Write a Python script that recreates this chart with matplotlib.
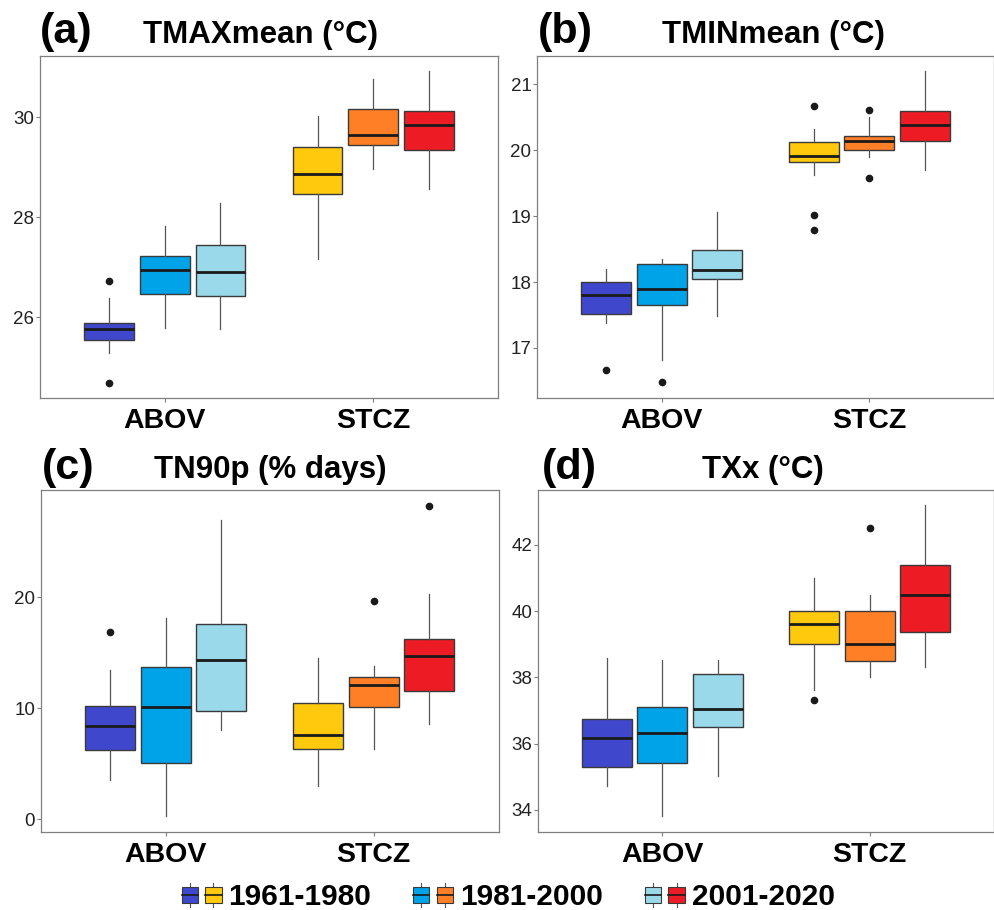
import matplotlib
matplotlib.use('Agg')
import matplotlib.pyplot as plt
from matplotlib.patches import Rectangle
from matplotlib.lines import Line2D
from matplotlib.legend_handler import HandlerBase

plt.rcParams['font.family'] = ['Liberation Sans', 'DejaVu Sans']

regions = ['ABOV', 'STCZ']
periods = ['1961-1980', '1981-2000', '2001-2020']
# boxes in order: ABOV 3 periods, then STCZ 3 periods
colors = ['#3F48CC', '#00A2E8', '#99D9EA', '#FFC90E', '#FF7F27', '#ED1C24']

# (a) TMAXmean
a_lo  = [25.29, 25.79, 25.77, 27.17, 28.97, 28.56]
a_q1  = [25.54, 26.47, 26.43, 28.47, 29.45, 29.35]
a_med = [25.77, 26.95, 26.90, 28.87, 29.64, 29.84]
a_q3  = [25.89, 27.23, 27.45, 29.40, 30.16, 30.13]
a_hi  = [26.39, 27.82, 28.29, 30.03, 30.77, 30.92]
a_out = [[26.72, 24.69], [], [], [], [], []]

# (b) TMINmean
b_lo  = [17.38, 16.81, 17.48, 19.63, 19.90, 19.70]
b_q1  = [17.52, 17.65, 18.04, 19.82, 20.01, 20.14]
b_med = [17.80, 17.89, 18.18, 19.91, 20.14, 20.38]
b_q3  = [18.00, 18.28, 18.48, 20.12, 20.22, 20.60]
b_hi  = [18.20, 18.35, 19.07, 20.32, 20.50, 21.20]
b_out = [[16.66], [16.48], [], [20.67, 19.02, 18.79], [20.61, 19.58], []]

# (c) TN90p
c_lo  = [3.48, 0.30, 7.99, 2.94, 6.31, 8.56]
c_q1  = [6.19, 5.05, 9.73, 6.28, 10.09, 11.53]
c_med = [8.38, 10.06, 14.32, 7.57, 12.10, 14.74]
c_q3  = [10.15, 13.72, 17.63, 10.45, 12.85, 16.22]
c_hi  = [13.45, 18.11, 26.97, 14.50, 13.78, 20.33]
c_out = [[16.91], [], [], [], [19.64], [28.26]]

# (d) TXx
d_lo  = [34.71, 33.82, 35.01, 37.63, 38.00, 38.30]
d_q1  = [35.29, 35.41, 36.51, 39.00, 38.50, 39.38]
d_med = [36.16, 36.32, 37.06, 39.62, 39.02, 40.50]
d_q3  = [36.75, 37.10, 38.11, 40.00, 40.00, 41.41]
d_hi  = [38.60, 38.52, 38.52, 41.01, 40.50, 43.20]
d_out = [[], [], [], [37.31], [42.50], []]

panels = [
    ('(a)', 'TMAXmean (°C)', (a_lo, a_q1, a_med, a_q3, a_hi, a_out), [26, 28, 30], (24.38, 31.22)),
    ('(b)', 'TMINmean (°C)', (b_lo, b_q1, b_med, b_q3, b_hi, b_out), [17, 18, 19, 20, 21], (16.24, 21.43)),
    ('(c)', 'TN90p (% days)', (c_lo, c_q1, c_med, c_q3, c_hi, c_out), [0, 10, 20], (-1.17, 29.67)),
    ('(d)', 'TXx (°C)', (d_lo, d_q1, d_med, d_q3, d_hi, d_out), [34, 36, 38, 40, 42], (33.33, 43.66)),
]

axes_rects = [
    [0.0402, 0.5626, 0.4603, 0.3758],
    [0.5397, 0.5626, 0.4593, 0.3758],
    [0.0409, 0.0857, 0.4603, 0.3758],
    [0.5407, 0.0857, 0.4583, 0.3758],
]
label_xy = [(0.040, 0.965), (0.541, 0.965), (0.042, 0.486), (0.545, 0.486)]
title_xy = [(0.262, 0.961), (0.777, 0.961), (0.272, 0.484), (0.767, 0.484)]

offsets = [-0.267, 0.0, 0.267]
positions = [g + o for g in [1, 2] for o in offsets]

fig = plt.figure(figsize=(9.95, 9.1), dpi=100)

for i, (lab, title, vals, yticks, ylim) in enumerate(panels):
    ax = fig.add_axes(axes_rects[i])
    lo, q1, med, q3, hi, out = vals
    stats = []
    for k in range(6):
        stats.append(dict(whislo=lo[k], q1=q1[k], med=med[k], q3=q3[k],
                          whishi=hi[k], fliers=out[k]))
    bp = ax.bxp(stats, positions=positions, widths=0.24, patch_artist=True,
                showcaps=False,
                boxprops=dict(edgecolor='#3a3a3a', linewidth=1.0),
                medianprops=dict(color='#1a1a1a', linewidth=2.0),
                whiskerprops=dict(color='#555555', linewidth=0.9),
                flierprops=dict(marker='o', markerfacecolor='#1a1a1a',
                                markeredgecolor='#1a1a1a', markersize=4.5))
    for patch, c in zip(bp['boxes'], colors):
        patch.set_facecolor(c)
    ax.set_xlim(0.4, 2.6)
    ax.set_ylim(*ylim)
    ax.set_xticks([1, 2])
    ax.set_xticklabels(regions, fontsize=20.5, fontweight='bold')
    ax.set_yticks(yticks)
    ax.tick_params(axis='y', labelsize=13.5, colors='#7f7f7f', labelcolor='#222222',
                   length=3, width=0.8, pad=1)
    ax.tick_params(axis='x', colors='#7f7f7f', labelcolor='black',
                   length=3, width=0.8, pad=4)
    for s in ax.spines.values():
        s.set_color('#7f7f7f')
        s.set_linewidth(0.9)
    fig.text(label_xy[i][0], label_xy[i][1], lab, fontsize=31, fontweight='bold',
             ha='left', va='center')
    fig.text(title_xy[i][0], title_xy[i][1], title, fontsize=22.5, fontweight='bold',
             ha='center', va='center')


class BoxPair:
    def __init__(self, pair):
        self.pair = pair


class HandlerBoxPair(HandlerBase):
    def create_artists(self, legend, orig_handle, xdescent, ydescent, width, height,
                       fontsize, trans):
        arts = []
        bw = width * 0.40
        for k, c in enumerate(orig_handle.pair):
            x0 = -xdescent + k * width * 0.58
            y0 = -ydescent
            cx = x0 + bw / 2
            arts.append(Line2D([cx, cx], [y0 - height * 0.25, y0 + height * 1.25],
                               color='#555555', lw=0.8, transform=trans))
            arts.append(Rectangle((x0, y0), bw, height,
                                  facecolor=c, edgecolor='#3a3a3a', lw=0.8,
                                  transform=trans))
            arts.append(Line2D([x0, x0 + bw], [y0 + height * 0.5] * 2,
                               color='#1a1a1a', lw=1.2, transform=trans))
        return arts


handles = [BoxPair((colors[k], colors[k + 3])) for k in range(3)]
fig.legend(handles, periods, handler_map={BoxPair: HandlerBoxPair()},
           loc='center', bbox_to_anchor=(0.5106, 0.014), ncol=3, frameon=False,
           prop=dict(size=21.5, weight='bold'), handlelength=1.37, handleheight=0.45,
           handletextpad=0.2, columnspacing=1.4, borderpad=0.1)

fig.savefig('out.png', dpi=100, facecolor='white')
